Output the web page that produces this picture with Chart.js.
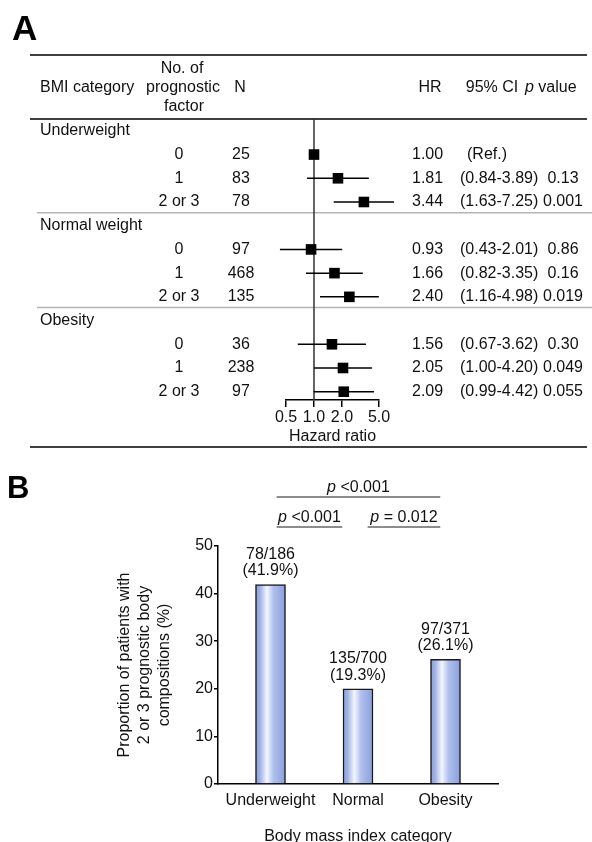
<!DOCTYPE html>
<html>
<head>
<meta charset="utf-8">
<script src="https://cdn.jsdelivr.net/npm/chart.js@4.4.1/dist/chart.umd.min.js"></script>
<style>
  html, body { margin: 0; padding: 0; background: #fff; overflow: hidden; }
  #wrap { position: relative; width: 592px; height: 842px; }
  #forest { position: absolute; left: 0; top: 0; }
  #bars { position: absolute; left: 0; top: 455px; }
</style>
</head>
<body>
<div id="wrap">
  <canvas id="forest" width="592" height="455"></canvas>
  <canvas id="bars" width="592" height="400"></canvas>
</div>
<script>
// Panel A: hazard ratio by BMI category and number of prognostic factors
const bmiGroups = ['Underweight', 'Normal weight', 'Obesity'];
const factorLabels = ['0', '1', '2 or 3'];
const nPatients = [25, 83, 78, 97, 468, 135, 36, 238, 97];
const hazardRatios = [1.00, 1.81, 3.44, 0.93, 1.66, 2.40, 1.56, 2.05, 2.09];
const ciLower = [null, 0.84, 1.63, 0.43, 0.82, 1.16, 0.67, 1.00, 0.99];
const ciUpper = [null, 3.89, 7.25, 2.01, 3.35, 4.98, 3.62, 4.20, 4.42];
const pValues = ['', '0.13', '0.001', '0.86', '0.16', '0.019', '0.30', '0.049', '0.055'];
const hrTicks = [0.5, 1.0, 2.0, 5.0];

// Panel B: proportion with 2 or 3 prognostic body compositions
const bmiCategories = ['Underweight', 'Normal', 'Obesity'];
const proportions = [41.9, 20.0, 26.2];
const countLabels = ['78/186', '135/700', '97/371'];
const percentLabels = ['(41.9%)', '(19.3%)', '(26.1%)'];
const yTicks = [0, 10, 20, 30, 40, 50];
// comparison brackets: from / to in category units, level in % units
const compFrom = [0.07, 0.07, 1.11];
const compTo = [1.94, 0.82, 1.94];
const compLevel = [60.3, 54.0, 54.0];
const compText = [' <0.001', ' <0.001', ' = 0.012'];

const FF = '"Liberation Sans", Arial, Helvetica, sans-serif';
const INK = '#111';
Chart.defaults.font.family = FF;
Chart.defaults.font.size = 16;
Chart.defaults.color = INK;

// row position of each table line (group header takes one row)
const rowOf = i => Math.floor(i / 3) * 4 + 1 + (i % 3);

function drawText(ctx, str, x, y, align, style) {
    ctx.font = (style ? style + ' ' : '') + '16px ' + FF;
    ctx.textAlign = align;
    ctx.textBaseline = 'middle';
    ctx.fillStyle = INK;
    ctx.fillText(str, x, y);
}

// italic "p" followed by plain text, starting at left
function drawPText(ctx, rest, left, y) {
    ctx.font = 'italic 16px ' + FF;
    const w = ctx.measureText('p').width;
    drawText(ctx, 'p', left, y, 'left', 'italic');
    drawText(ctx, rest, left + w, y, 'left');
}

function pTextWidth(ctx, rest) {
    ctx.font = 'italic 16px ' + FF;
    const w1 = ctx.measureText('p').width;
    ctx.font = '16px ' + FF;
    return w1 + ctx.measureText(rest).width;
}

function hline(ctx, x1, x2, y, color, width) {
    ctx.strokeStyle = color;
    ctx.lineWidth = width;
    ctx.beginPath();
    ctx.moveTo(x1, y);
    ctx.lineTo(x2, y);
    ctx.stroke();
}

// Table text and rules around the forest plot
const tablePlugin = {
    id: 'table',
    beforeDatasetsDraw(chart) {
        const { ctx, chartArea, scales: { y } } = chart;
        ctx.save();
        hline(ctx, 30, 587, 55, '#000', 1.5);
        hline(ctx, 30, 587, chartArea.top, '#000', 1.5);
        for (let g = 1; g < bmiGroups.length; g++) {
            hline(ctx, 37, 592, y.getPixelForValue(g * 4 - 0.55), '#b4b4b4', 1.5);
        }
        hline(ctx, 30, 587, 447, '#000', 1.5);
        ctx.restore();
    },
    afterDraw(chart) {
        const { ctx, scales: { y } } = chart;
        ctx.save();
        // panel letter
        ctx.font = 'bold 35px ' + FF;
        ctx.textAlign = 'left';
        ctx.textBaseline = 'alphabetic';
        ctx.fillStyle = '#000';
        ctx.fillText('A', 12, 40);

        // header
        drawText(ctx, 'BMI category', 40, 88, 'left');
        drawText(ctx, 'No. of', 182, 69, 'center');
        drawText(ctx, 'prognostic', 183, 88, 'center');
        drawText(ctx, 'factor', 184, 107, 'center');
        drawText(ctx, 'N', 240, 88, 'center');
        drawText(ctx, 'HR', 430, 88, 'center');
        drawText(ctx, '95% CI', 492, 88, 'center');
        drawPText(ctx, ' value', 525, 88);

        // group labels
        bmiGroups.forEach((g, k) => drawText(ctx, g, 40, y.getPixelForValue(k * 4), 'left'));

        // data rows
        hazardRatios.forEach((hr, i) => {
            const py = y.getPixelForValue(rowOf(i));
            drawText(ctx, factorLabels[i % 3], 179, py, 'center');
            drawText(ctx, String(nPatients[i]), 241, py, 'center');
            drawText(ctx, hr.toFixed(2), 412, py, 'left');
            if (ciLower[i] == null) {
                drawText(ctx, '(Ref.)', 467, py, 'left');
            } else {
                drawText(ctx, `(${ciLower[i].toFixed(2)}-${ciUpper[i].toFixed(2)})`, 460, py, 'left');
            }
            drawText(ctx, pValues[i], 563, py, 'center');
        });
        ctx.restore();
    }
};

// CI segments in one line dataset, broken by gaps
const ciPoints = [];
hazardRatios.forEach((hr, i) => {
    if (ciLower[i] == null) return;
    ciPoints.push({ x: ciLower[i], y: rowOf(i) }, { x: ciUpper[i], y: rowOf(i) }, { x: null, y: null });
});

new Chart(document.getElementById('forest'), {
    type: 'scatter',
    data: {
        datasets: [
            {
                data: hazardRatios.map((v, i) => ({ x: v, y: rowOf(i) })),
                pointStyle: 'rect',
                pointRadius: 7.5,
                pointBackgroundColor: '#000',
                pointBorderWidth: 0,
                clip: false
            },
            {
                type: 'line',
                data: ciPoints,
                borderColor: '#000',
                borderWidth: 1.5,
                pointRadius: 0,
                spanGaps: false,
                clip: false
            },
            {
                type: 'line',
                data: [{ x: 1, y: -0.5 }, { x: 1, y: 11.35 }],
                borderColor: '#333',
                borderWidth: 1.5,
                pointRadius: 0,
                clip: false
            }
        ]
    },
    options: {
        responsive: false,
        animation: false,
        layout: { padding: { left: 286, right: 213, top: 119, bottom: 0 } },
        plugins: { legend: { display: false }, tooltip: { enabled: false } },
        scales: {
            x: {
                type: 'logarithmic',
                min: 0.5,
                max: 5,
                afterBuildTicks: s => { s.ticks = hrTicks.map(v => ({ value: v })); },
                afterFit: s => { s.height = 55; },
                ticks: {
                    autoSkip: false,
                    maxRotation: 0,
                    padding: 1,
                    callback: v => Number(v).toFixed(1)
                },
                grid: { display: true, drawOnChartArea: false, drawTicks: true, tickLength: 7, color: '#000', lineWidth: 1.5 },
                border: { display: true, color: '#000', width: 1.5 },
                title: { display: true, text: 'Hazard ratio', padding: { top: 0, bottom: 9 } }
            },
            y: { type: 'linear', reverse: true, min: -0.5, max: 11.35, display: false }
        }
    },
    plugins: [tablePlugin]
});

// Bar fill: vertical highlight across each bar
function barGradient(c) {
    const chart = c.chart;
    const xs = chart.scales.x;
    const cx = xs && c.dataIndex !== undefined ? xs.getPixelForValue(c.dataIndex) : NaN;
    if (!isFinite(cx)) return '#8fa4de';
    const g = chart.ctx.createLinearGradient(cx - 15, 0, cx + 15, 0);
    g.addColorStop(0, '#8aa0dc');
    g.addColorStop(0.15, '#9fb2e5');
    g.addColorStop(0.38, '#f4f6fd');
    g.addColorStop(0.6, '#b0c0ec');
    g.addColorStop(1, '#889fde');
    return g;
}

const barNotes = {
    id: 'barNotes',
    afterDatasetsDraw(chart) {
        const { ctx, scales: { x, y } } = chart;
        ctx.save();
        ctx.font = 'bold 31px ' + FF;
        ctx.textAlign = 'left';
        ctx.textBaseline = 'alphabetic';
        ctx.fillStyle = '#000';
        ctx.fillText('B', 7, 43);

        chart.getDatasetMeta(0).data.forEach((bar, i) => {
            drawText(ctx, countLabels[i], bar.x, bar.y - 30, 'center');
            drawText(ctx, percentLabels[i], bar.x, bar.y - 13.5, 'center');
        });

        compText.forEach((t, k) => {
            const x1 = x.getPixelForValue(compFrom[k]);
            const x2 = x.getPixelForValue(compTo[k]);
            const ly = y.getPixelForValue(compLevel[k]);
            hline(ctx, x1, x2, ly, '#666', 1.5);
            const w = pTextWidth(ctx, t);
            drawPText(ctx, t, (x1 + x2) / 2 - w / 2, ly - 9.5);
        });
        ctx.restore();
    }
};

new Chart(document.getElementById('bars'), {
    type: 'bar',
    data: {
        datasets: [{
            data: proportions.map((v, i) => ({ x: i, y: v })),
            barThickness: 30,
            backgroundColor: barGradient,
            borderColor: '#1a1a1a',
            borderWidth: 1.5,
            borderSkipped: 'start'
        }]
    },
    options: {
        responsive: false,
        animation: false,
        layout: { padding: { left: 0, right: 94, top: 91, bottom: 0 } },
        plugins: { legend: { display: false }, tooltip: { enabled: false } },
        scales: {
            x: {
                type: 'linear',
                offset: false,
                min: -0.6,
                max: 2.6,
                afterBuildTicks: s => { s.ticks = bmiCategories.map((c, i) => ({ value: i })); },
                afterFit: s => { s.height = 71; },
                ticks: { autoSkip: false, maxRotation: 0, padding: 7, callback: v => bmiCategories[v] ?? '' },
                grid: { display: false, drawTicks: false, offset: false },
                border: { display: true, color: '#000', width: 1.5 },
                title: { display: true, text: 'Body mass index category', padding: { top: 0, bottom: 9 } }
            },
            y: {
                min: 0,
                max: 50,
                afterBuildTicks: s => { s.ticks = yTicks.map(v => ({ value: v })); },
                afterFit: s => { s.width = 218; },
                ticks: { padding: 1 },
                grid: { drawOnChartArea: false, drawTicks: true, tickLength: 4, color: '#000', lineWidth: 1.5 },
                border: { display: true, color: '#000', width: 1.5 },
                title: {
                    display: true,
                    text: ['Proportion of patients with', '2 or 3 prognostic body', 'compositions (%)'],
                    font: { size: 16, lineHeight: 1.25 },
                    padding: { top: 115, bottom: 0 }
                }
            }
        }
    },
    plugins: [barNotes]
});
</script>
</body>
</html>
